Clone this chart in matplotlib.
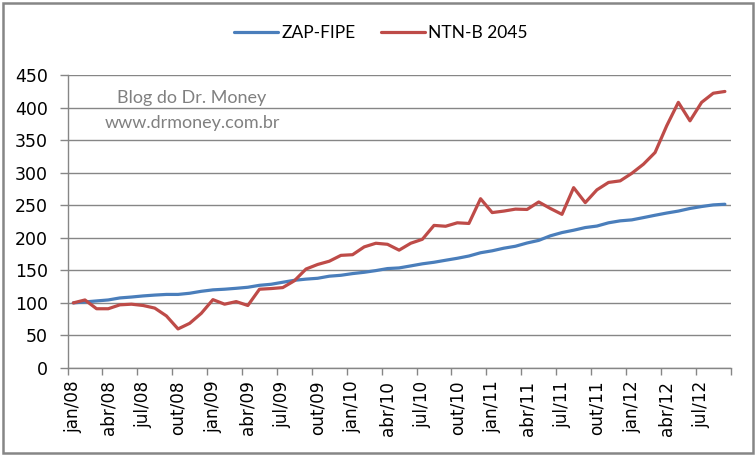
import matplotlib
matplotlib.use("Agg")
import matplotlib.pyplot as plt
from matplotlib.patches import Rectangle
from matplotlib.transforms import ScaledTranslation

BLUE, RED, GRID = "#4A7EBB", "#BE4B48", "#868686"

months = ["jan", "fev", "mar", "abr", "mai", "jun", "jul", "ago", "set", "out", "nov", "dez"]
categories = [f"{m}/{y:02d}" for y in range(8, 13) for m in months][:57]

zap_fipe = [100, 101.5, 103, 104.5, 107.6, 109, 110.7, 112, 113, 113, 114.8, 117.8,
            120, 121, 122.4, 124, 127, 128.6, 131.7, 134.7, 136.5, 137.8, 141, 142.4,
            145, 147, 149.6, 152.7, 153.7, 156.8, 160, 162.4, 165.5, 168.5, 172, 177,
            180, 184, 187, 192, 196, 203, 208, 211.6, 215.7, 218, 223, 226,
            227.5, 231, 234.6, 238, 241, 245, 248, 250.5, 251.5]
ntnb_2045 = [100, 104.5, 91, 91, 97, 98, 96, 92, 80, 60, 68.6, 84,
             105, 98, 102, 96, 121, 122, 123.5, 134, 152, 159, 164, 173,
             174, 186, 191.6, 190, 181, 191.6, 197.7, 219, 217.7, 223, 222, 260,
             238.7, 241, 244, 243.5, 255, 245, 236, 277, 254, 273.6, 285, 287.4,
             299, 313, 331, 372, 408, 379.6, 408, 422, 424.7]

W, H = 756, 457
fig = plt.figure(figsize=(W / 100, H / 100), dpi=100)
ax = fig.add_axes([67.5 / W, 1 - 368 / H, (730.7 - 67.5) / W, (368 - 75) / H])

x = list(range(len(categories)))
l1, = ax.plot(x, zap_fipe, color=BLUE, linewidth=2.3, label="ZAP-FIPE", solid_capstyle="round")
l2, = ax.plot(x, ntnb_2045, color=RED, linewidth=2.3, label="NTN-B 2045", solid_capstyle="round")

ax.set_xlim(-0.5, len(categories) - 0.5)
ax.set_ylim(0, 450)
ax.set_yticks(range(0, 451, 50))
ax.yaxis.grid(True, color=GRID, linewidth=1)
ax.set_axisbelow(True)

# ticks between categories, labels on every 3rd category
ax.set_xticks([i - 0.5 for i in range(0, len(categories) + 1, 3)])
ax.set_xticklabels([])
ax.set_xticks(x[::3], minor=True)
ax.set_xticklabels(categories[::3], minor=True, rotation=90, fontsize=12.2,
                   family="DejaVu Sans")
shift = ScaledTranslation(3.5 / 100, 0, fig.dpi_scale_trans)
for lab in ax.get_xticklabels(minor=True):
    lab.set_transform(lab.get_transform() + shift)
ax.tick_params(axis="x", which="minor", length=0, pad=9)
ax.tick_params(axis="x", which="major", length=5, color=GRID, width=1)
ax.tick_params(axis="y", length=6, color=GRID, width=1, labelsize=12.5, pad=8)
for lab in ax.get_yticklabels():
    lab.set_family("DejaVu Sans")

for side in ("top", "right"):
    ax.spines[side].set_visible(False)
for side in ("left", "bottom"):
    ax.spines[side].set_color(GRID)
    ax.spines[side].set_linewidth(1)

ax.text(192 / W, 1 - 98 / H, "Blog do Dr. Money", transform=fig.transFigure,
        ha="center", va="center", color="#808080", fontsize=13, family="Lato")
ax.text(192 / W, 1 - 123 / H, "www.drmoney.com.br", transform=fig.transFigure,
        ha="center", va="center", color="#808080", fontsize=13, family="Lato")

fig.legend(handles=[l1, l2], loc="center", bbox_to_anchor=(381 / W, 1 - 33 / H),
           ncol=2, frameon=False, handlelength=2.5, handletextpad=0.2,
           columnspacing=1.5, prop={"family": "Lato", "size": 12.5})

fig.patches.append(Rectangle((2.5 / W, 4 / H), (W - 6) / W, (H - 7) / H,
                             transform=fig.transFigure, fill=False,
                             edgecolor=GRID, linewidth=1.8))

fig.savefig("out.png", dpi=100)
